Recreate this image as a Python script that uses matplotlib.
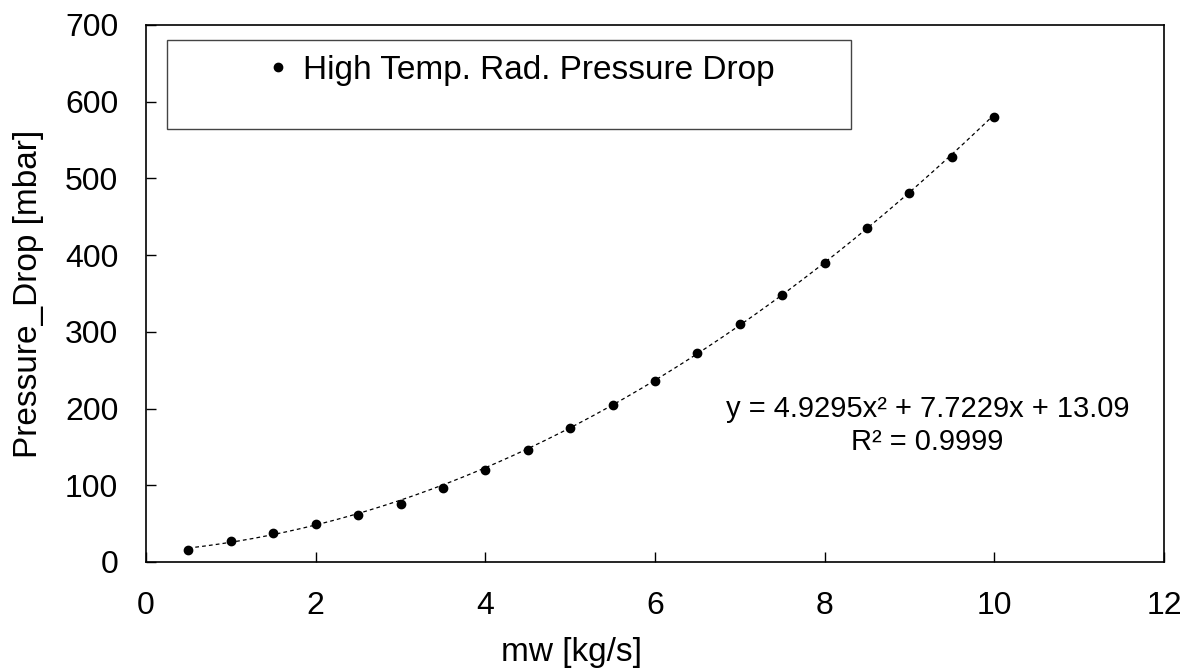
import matplotlib
matplotlib.use("Agg")
import matplotlib.pyplot as plt
from matplotlib.patches import Rectangle
import numpy as np

plt.rcParams['font.family'] = ['Liberation Sans', 'DejaVu Sans']

# mass flow [kg/s] and measured pressure drop [mbar]
mw = [0.5, 1.0, 1.5, 2.0, 2.5, 3.0, 3.5, 4.0, 4.5, 5.0,
      5.5, 6.0, 6.5, 7.0, 7.5, 8.0, 8.5, 9.0, 9.5, 10.0]
dp = [16, 27, 38, 50, 61, 76, 96, 120, 146, 175,
      205, 236, 272, 310, 348, 390, 435, 481, 528, 580]

# polynomial trendline coefficients as shown on the chart
coef = [4.9295, 7.7229, 13.09]
r2_text = "R² = 0.9999"

fs = 24

fig = plt.figure(figsize=(11.96, 6.70), dpi=100)
ax = fig.add_axes([0.1221, 0.1612, 0.8511, 0.8015])

xs = np.linspace(min(mw), max(mw), 200)
ax.plot(xs, np.polyval(coef, xs), color='black', linestyle=(0, (3, 2.5)), linewidth=0.9)
pts, = ax.plot(mw, dp, 'o', color='black', markersize=6, linestyle='none',
               label='High Temp. Rad. Pressure Drop')

ax.set_xlim(0, 12)
ax.set_ylim(0, 700)
ax.set_xticks(range(0, 13, 2))
ax.set_yticks(range(0, 701, 100))
ax.tick_params(direction='in', length=7, width=1, labelsize=23)
ax.tick_params(axis='x', pad=21)
ax.tick_params(axis='y', pad=20)
for s in ax.spines.values():
    s.set_linewidth(1.2)
    s.set_color('black')

ax.set_xlabel('mw [kg/s]', fontsize=fs)
ax.xaxis.set_label_coords(0.418, -0.14)
ax.set_ylabel('Pressure_Drop [mbar]', fontsize=fs)
ax.yaxis.set_label_coords(-0.1, 0.5)

# legend box (fixed size, Excel style)
ax.add_patch(Rectangle((0.0206, 0.806), 0.672, 0.166, transform=ax.transAxes,
                       fill=False, edgecolor='#444444', linewidth=1.0, zorder=5))
ax.legend(handles=[pts], loc='center left', bbox_to_anchor=(0.107, 0.916),
          frameon=False, fontsize=fs, handlelength=0.6, handletextpad=0.45,
          borderaxespad=0)

eq = "y = {:.4f}x² + {:.4f}x + {:.2f}".format(*coef)
ax.text(9.21, 200, eq, ha='center', va='center', fontsize=21)
ax.text(9.21, 157, r2_text, ha='center', va='center', fontsize=21)

fig.savefig('out.png', dpi=100)
